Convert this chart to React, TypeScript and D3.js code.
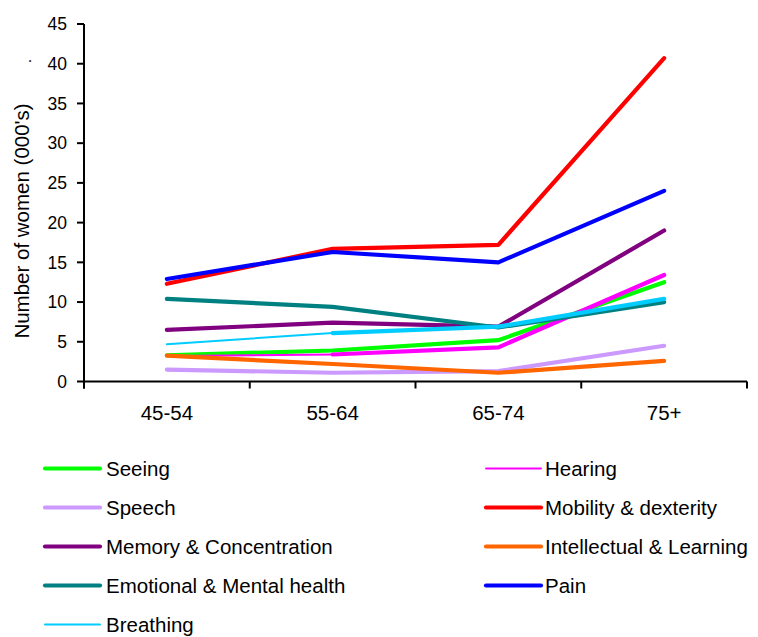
import React, { useEffect, useRef } from 'react';
import * as d3 from 'd3';

const ageGroups = ['45-54', '55-64', '65-74', '75+'];
const yTicks = [0, 5, 10, 15, 20, 25, 30, 35, 40, 45];

const seeing = [3.3, 3.9, 5.2, 12.5];
const hearing = [3.2, 3.4, 4.3, 13.4];
const speech = [1.5, 1.1, 1.3, 4.5];
const mobility = [12.3, 16.7, 17.2, 40.7];
const memory = [6.5, 7.4, 6.9, 19.0];
const intellectual = [3.25, 2.2, 1.1, 2.6];
const emotional = [10.4, 9.4, 6.8, 10.0];
const pain = [12.9, 16.3, 15.0, 24.0];
const breathing = [4.7, 6.1, 6.9, 10.4];

interface Series {
  name: string;
  values: number[];
  color: string;
  thin: boolean;
}

const series: Series[] = [
  { name: 'Seeing', values: seeing, color: '#00ff00', thin: false },
  { name: 'Hearing', values: hearing, color: '#ff00ff', thin: true },
  { name: 'Speech', values: speech, color: '#cc99ff', thin: false },
  { name: 'Mobility & dexterity', values: mobility, color: '#ff0000', thin: false },
  { name: 'Memory & Concentration', values: memory, color: '#800080', thin: false },
  { name: 'Intellectual & Learning', values: intellectual, color: '#ff6600', thin: false },
  { name: 'Emotional & Mental health', values: emotional, color: '#008080', thin: false },
  { name: 'Pain', values: pain, color: '#0000ff', thin: false },
  { name: 'Breathing', values: breathing, color: '#00ccff', thin: true },
];

// legend reads in two columns, row by row
const legendOrder = [
  'Seeing', 'Hearing', 'Speech', 'Mobility & dexterity', 'Memory & Concentration',
  'Intellectual & Learning', 'Emotional & Mental health', 'Pain', 'Breathing',
];

const App: React.FC = () => {
  const svgRef = useRef<SVGSVGElement>(null);

  useEffect(() => {
    if (!svgRef.current) return;
    const svg = d3.select(svgRef.current);
    svg.selectAll('*').remove();

    const font = 'Arial, "Liberation Sans", sans-serif';
    const left = 84, right = 747, top = 24, bottom = 381.5;

    const x = d3.scaleBand<string>().domain(ageGroups).range([left, right]);
    const y = d3.scaleLinear().domain([0, 45]).range([bottom, top]);
    const cx = (c: string) => (x(c) as number) + x.bandwidth() / 2;

    // y axis
    const yAxis = svg.append('g');
    yAxis.append('line')
      .attr('x1', left).attr('x2', left)
      .attr('y1', y(45)).attr('y2', bottom + 7)
      .attr('stroke', '#000').attr('stroke-width', 2);
    yTicks.forEach(t => {
      yAxis.append('line')
        .attr('x1', left - 7).attr('x2', left)
        .attr('y1', y(t)).attr('y2', y(t))
        .attr('stroke', '#000').attr('stroke-width', 2);
      yAxis.append('text')
        .attr('x', left - 17).attr('y', y(t))
        .attr('dy', '0.36em')
        .attr('text-anchor', 'end')
        .style('font-family', font).style('font-size', '17.5px')
        .text(t);
    });

    // x axis
    const xAxis = svg.append('g');
    xAxis.append('line')
      .attr('x1', left).attr('x2', right)
      .attr('y1', bottom).attr('y2', bottom)
      .attr('stroke', '#000').attr('stroke-width', 2);
    [...ageGroups.map(c => x(c) as number), right].forEach(px => {
      xAxis.append('line')
        .attr('x1', px).attr('x2', px)
        .attr('y1', bottom).attr('y2', bottom + 7)
        .attr('stroke', '#000').attr('stroke-width', 2);
    });
    ageGroups.forEach(c => {
      xAxis.append('text')
        .attr('x', cx(c)).attr('y', bottom + 38.5)
        .attr('text-anchor', 'middle')
        .style('font-family', font).style('font-size', '20.5px')
        .text(c);
    });

    // axis title
    svg.append('text')
      .attr('transform', `translate(28.5, 221) rotate(-90)`)
      .attr('text-anchor', 'middle')
      .style('font-family', font).style('font-size', '20.5px')
      .text("Number of women (000's)");
    svg.append('text')
      .attr('transform', `translate(31, 61) rotate(-90)`)
      .attr('text-anchor', 'middle')
      .style('font-family', font).style('font-size', '16px')
      .text('.');

    // lines
    const line = d3.line<[string, number]>()
      .x(d => cx(d[0]))
      .y(d => y(d[1]));

    series.forEach(s => {
      const pts: [string, number][] = ageGroups.map((c, i) => [c, s.values[i]]);
      if (s.thin) {
        svg.append('path')
          .attr('d', line(pts.slice(0, 2)))
          .attr('fill', 'none').attr('stroke', s.color)
          .attr('stroke-width', 2).attr('stroke-linecap', 'round');
        svg.append('path')
          .attr('d', line(pts.slice(1)))
          .attr('fill', 'none').attr('stroke', s.color)
          .attr('stroke-width', 4.2).attr('stroke-linecap', 'round').attr('stroke-linejoin', 'round');
      } else {
        svg.append('path')
          .attr('d', line(pts))
          .attr('fill', 'none').attr('stroke', s.color)
          .attr('stroke-width', 4.2).attr('stroke-linecap', 'round').attr('stroke-linejoin', 'round');
      }
    });

    // legend
    const legend = svg.append('g');
    legendOrder.forEach((name, i) => {
      const s = series.find(d => d.name === name)!;
      const col = i % 2;
      const row = Math.floor(i / 2);
      const lx = col === 0 ? 45 : 486;
      const tx = col === 0 ? 106 : 545;
      const ly = 468.5 + row * 39;
      legend.append('line')
        .attr('x1', lx).attr('x2', lx + 55)
        .attr('y1', ly).attr('y2', ly)
        .attr('stroke', s.color)
        .attr('stroke-width', s.thin ? 2 : 4.2)
        .attr('stroke-linecap', 'round');
      legend.append('text')
        .attr('x', tx).attr('y', ly)
        .attr('dy', '0.36em')
        .style('font-family', font).style('font-size', '20.5px')
        .text(name);
    });
  }, []);

  return (
    <svg
      ref={svgRef}
      width={758}
      height={637}
      style={{ position: 'absolute', left: 0, top: 0, background: '#fff' }}
    />
  );
};

export default App;
